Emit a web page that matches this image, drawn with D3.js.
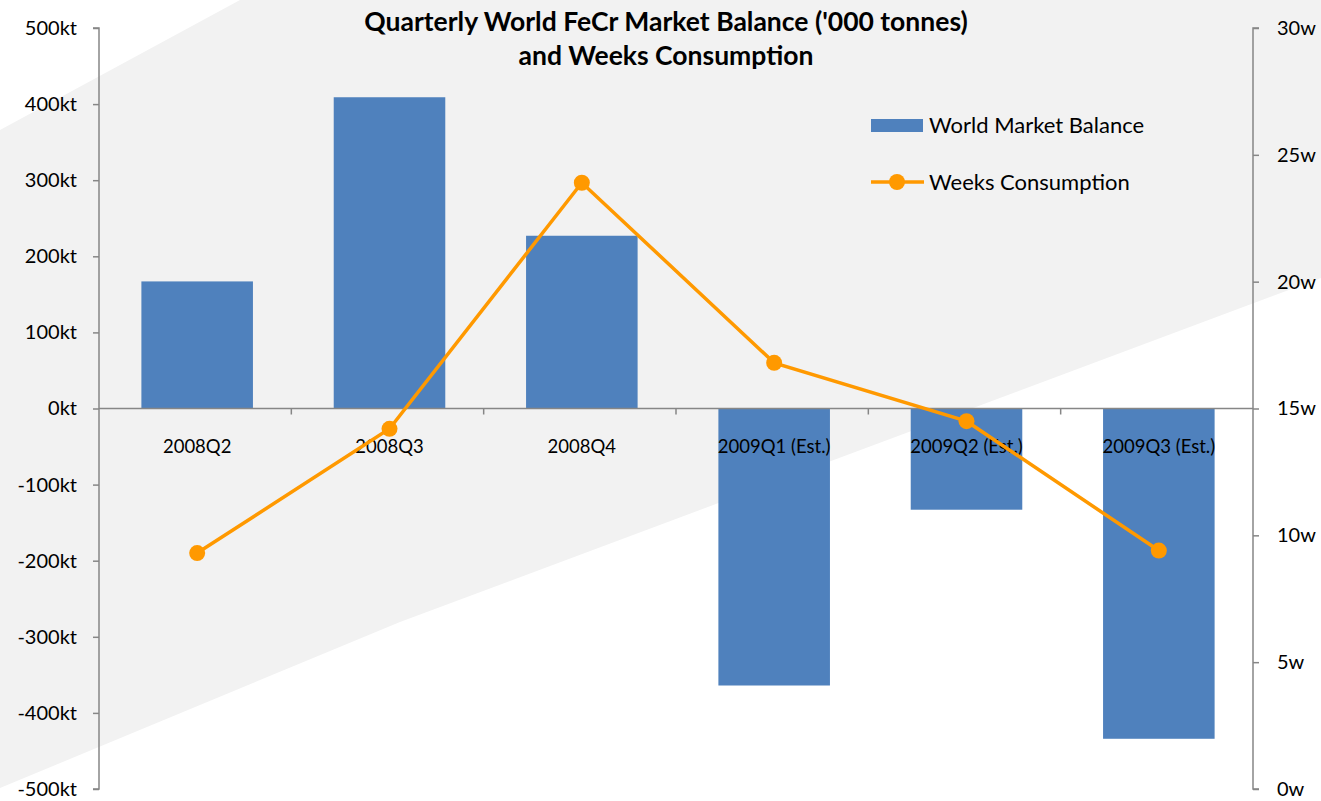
<!DOCTYPE html>
<html><head><meta charset="utf-8">
<script src="https://cdn.jsdelivr.net/npm/d3@7"></script>
<style>body{margin:0;background:#fff;} text{font-family:Lato,"Open Sans",sans-serif;}</style>
</head><body>
<svg id="c" width="1321" height="801"></svg>
<script>
const categories = ["2008Q2","2008Q3","2008Q4","2009Q1 (Est.)","2009Q2 (Est.)","2009Q3 (Est.)"];
const balance = [167, 409, 227, -364, -133, -434];
const weeks = [9.3, 14.2, 23.9, 16.8, 14.5, 9.4];
const leftTicks = [-500,-400,-300,-200,-100,0,100,200,300,400,500];
const rightTicks = [0,5,10,15,20,25,30];

const svg = d3.select("#c");
const W = 1321, H = 801;
const x0 = 99, x1 = 1253, yTop = 28, yBot = 789;

// background band
svg.append("rect").attr("width",W).attr("height",H).attr("fill","#fff");
svg.append("path").attr("d","M0,130 L240,0 L1321,0 L1321,278 L400,622 L0,788 Z").attr("fill","#f2f2f2");

const x = d3.scaleBand().domain(categories).range([x0,x1]).paddingInner(0.42).paddingOuter(0.21);
const xb = d3.scaleBand().domain(categories).range([x0,x1]);
const yL = d3.scaleLinear().domain([-500,500]).range([yBot,yTop]);
const yR = d3.scaleLinear().domain([0,30]).range([yBot,yTop]);

// bars
svg.selectAll("rect.bar").data(balance).enter().append("rect")
  .attr("class","bar")
  .attr("x",(d,i)=>x(categories[i])+2)
  .attr("width",x.bandwidth())
  .attr("y",d=>yL(Math.max(0,d)))
  .attr("height",d=>Math.abs(yL(d)-yL(0)))
  .attr("fill","#4f81bd");

// left axis
const gL = svg.append("g").attr("transform",`translate(${x0},0)`)
  .call(d3.axisLeft(yL).tickValues(leftTicks).tickSize(6).tickPadding(16).tickFormat(d=>d+"kt"));
gL.select(".domain").attr("stroke","#868686").attr("stroke-width",1.5).attr("d",`M-6,${yTop}H0V${yBot}H-6`);
gL.selectAll(".tick line").attr("stroke","#868686").attr("stroke-width",1.5);
gL.selectAll(".tick text").attr("font-size",20).attr("fill","#000");

// right axis
const gR = svg.append("g").attr("transform",`translate(${x1},0)`)
  .call(d3.axisRight(yR).tickValues(rightTicks).tickSize(6).tickPadding(18).tickFormat(d=>d+"w"));
gR.select(".domain").attr("stroke","#868686").attr("stroke-width",1.5).attr("d",`M6,${yTop}H0V${yBot}H6`);
gR.selectAll(".tick line").attr("stroke","#868686").attr("stroke-width",1.5);
gR.selectAll(".tick text").attr("font-size",20).attr("fill","#000");

// zero category axis
const gX = svg.append("g").attr("transform",`translate(0,${yL(0)})`)
  .call(d3.axisBottom(xb).tickSize(0).tickPadding(31));
gX.select(".domain").attr("stroke","#868686").attr("stroke-width",1.5).attr("d",`M${x0},0H${x1}`);
gX.selectAll(".tick text").attr("font-size",18.5).attr("fill","#000").attr("dx",2);
// category boundary ticks
svg.append("g").selectAll("line").data(categories.slice(1)).enter().append("line")
  .attr("x1",d=>xb(d)).attr("x2",d=>xb(d))
  .attr("y1",yL(0)).attr("y2",yL(0)+6)
  .attr("stroke","#868686").attr("stroke-width",1.5);

// line
const cx = (d,i)=>xb(categories[i])+xb.bandwidth()/2;
svg.append("path").datum(weeks)
  .attr("d",d3.line().x((d,i)=>cx(d,i)+2).y(d=>yR(d)))
  .attr("fill","none").attr("stroke","#ff9900").attr("stroke-width",3.5);
svg.selectAll("circle.pt").data(weeks).enter().append("circle")
  .attr("cx",(d,i)=>cx(d,i)+2).attr("cy",d=>yR(d)).attr("r",8).attr("fill","#ff9900");

// title
const title = svg.append("text").attr("text-anchor","middle").attr("font-weight","bold").attr("font-size",26.5).attr("fill","#000");
title.append("tspan").attr("x",666).attr("y",31).text("Quarterly World FeCr Market Balance ('000 tonnes)");
title.append("tspan").attr("x",666).attr("y",65).text("and Weeks Consumption");

// legend
svg.append("rect").attr("x",871).attr("y",119).attr("width",52).attr("height",13).attr("fill","#4f81bd");
svg.append("text").attr("x",929).attr("y",133).attr("font-size",22).text("World Market Balance");
svg.append("line").attr("x1",871).attr("x2",924).attr("y1",182).attr("y2",182).attr("stroke","#ff9900").attr("stroke-width",3.5);
svg.append("circle").attr("cx",897).attr("cy",182).attr("r",8).attr("fill","#ff9900");
svg.append("text").attr("x",929).attr("y",190).attr("font-size",22).text("Weeks Consumption");
</script>
</body></html>
